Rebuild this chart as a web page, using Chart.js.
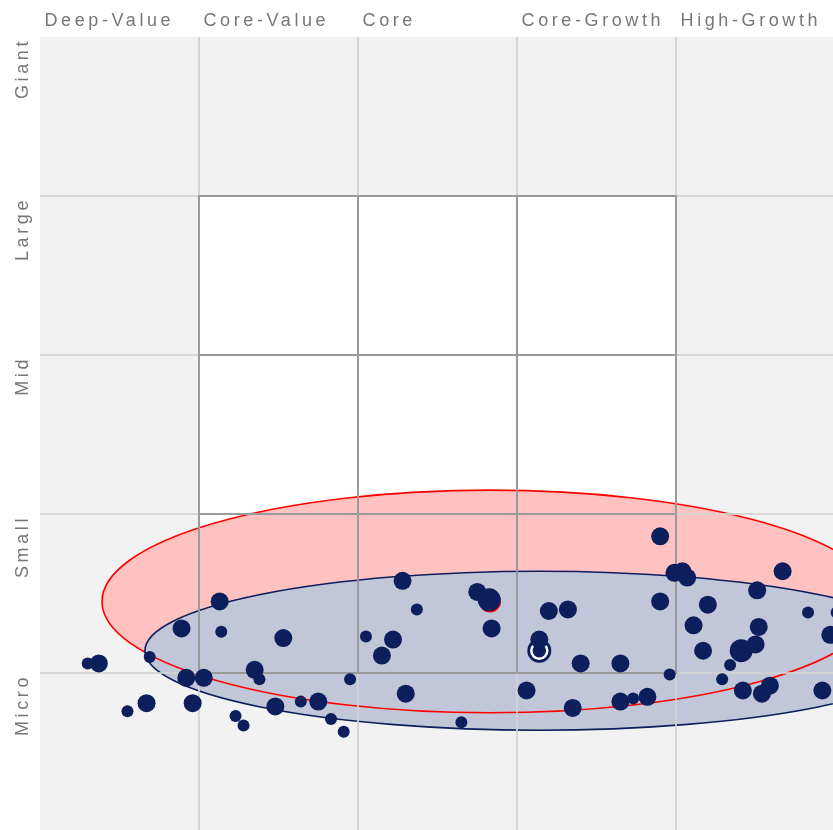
<!DOCTYPE html>
<html>
<head>
<meta charset="utf-8">
<script src="https://cdn.jsdelivr.net/npm/chart.js@4.4.1/dist/chart.umd.min.js"></script>
<style>
  html, body { margin: 0; padding: 0; background: #fff; }
  #wrap { width: 833px; height: 830px; }
</style>
</head>
<body>
<div id="wrap"><canvas id="zone" width="833" height="830"></canvas></div>
<script>
// axis categories
var styleLabels = ["Deep-Value", "Core-Value", "Core", "Core-Growth", "High-Growth"];
var sizeLabels = ["Micro", "Small", "Mid", "Large", "Giant"];
var gridTicks = [1, 2, 3, 4];

// holdings: style score (x), size score (y), weight class (1 small .. 3 large)
var holdingStyle = [0.30, 0.37, 0.69, 0.55, 0.67, 0.89, 1.13, 1.14, 0.92, 1.03,
                    0.96, 1.35, 1.38, 1.23, 1.28, 2.28, 2.37, 1.53, 2.05, 2.22,
                    2.15, 1.95, 2.30, 1.48, 1.64, 1.75, 1.83, 1.91, 2.65, 2.75,
                    2.825, 2.84, 3.20, 3.32, 3.14, 3.40, 3.65, 3.06, 3.35, 3.65,
                    3.73, 3.90, 3.99, 4.04, 4.07, 4.67, 3.90, 4.51, 4.20, 4.83,
                    5.01, 4.11, 4.52, 4.97, 4.17, 4.41, 4.50, 4.34, 3.96, 4.29,
                    4.42, 4.54, 4.59, 4.92, 3.82];
var holdingSize = [1.06, 1.06, 1.10, 0.76, 0.81, 1.28, 1.45, 1.26, 0.97, 0.97,
                   0.81, 1.02, 0.96, 0.73, 0.67, 1.58, 1.40, 1.22, 1.23, 1.21,
                   1.11, 0.96, 0.87, 0.79, 0.82, 0.82, 0.71, 0.63, 0.69, 1.51,
                   1.46, 1.28, 1.39, 1.40, 1.21, 1.06, 1.06, 0.89, 0.78, 0.82,
                   0.84, 1.86, 1.63, 1.64, 1.60, 1.64, 1.45, 1.52, 1.43, 1.38,
                   1.38, 1.30, 1.29, 1.24, 1.14, 1.14, 1.18, 1.05, 0.99, 0.96,
                   0.89, 0.87, 0.92, 0.89, 0.85];
var holdingWeight = [1, 2, 1, 1, 2, 2, 2, 1, 2, 2,
                     2, 2, 1, 1, 1, 2, 1, 2, 1, 2,
                     2, 1, 2, 2, 1, 2, 1, 1, 1, 2,
                     3, 2, 2, 2, 2, 2, 2, 2, 2, 2,
                     1, 2, 2, 2, 2, 2, 2, 2, 2, 1,
                     1, 2, 2, 2, 2, 3, 2, 1, 1, 1,
                     2, 2, 2, 2, 2];

// ownership zones: centre x, centre y, radius x, radius y
var fundZone = [3.14, 1.14, 2.48, 0.50];
var benchZone = [2.83, 1.45, 2.44, 0.70];

var NAVY = '#0c1e5b';
var LABEL_FONT = '18px "Liberation Sans", Arial, sans-serif';

function pts(xs, ys) {
  return xs.map(function (x, i) { return { x: x, y: ys[i] }; });
}

function ellipsePath(chart, z) {
  var xs = chart.scales.x, ys = chart.scales.y;
  var cx = xs.getPixelForValue(z[0]), cy = ys.getPixelForValue(z[1]);
  var rx = xs.getPixelForValue(z[0] + z[2]) - cx;
  var ry = cy - ys.getPixelForValue(z[1] + z[3]);
  chart.ctx.beginPath();
  chart.ctx.ellipse(cx, cy, rx, ry, 0, 0, Math.PI * 2);
}

var zonePlugin = {
  id: 'zone',
  beforeDraw: function (chart) {
    var ctx = chart.ctx, a = chart.chartArea;
    var xs = chart.scales.x, ys = chart.scales.y;
    ctx.save();
    ctx.fillStyle = '#f2f2f2';
    ctx.fillRect(a.left, a.top, a.right - a.left, a.bottom - a.top);
    var x1 = xs.getPixelForValue(1), x4 = xs.getPixelForValue(4);
    var y1 = ys.getPixelForValue(1), y4 = ys.getPixelForValue(4);
    ctx.fillStyle = '#ffffff';
    ctx.fillRect(x1, y4, x4 - x1, y1 - y4);

    ctx.beginPath();
    ctx.rect(a.left, a.top, a.right - a.left, a.bottom - a.top);
    ctx.clip();
    ellipsePath(chart, benchZone);
    ctx.fillStyle = '#ffc2c0';
    ctx.fill();
    ellipsePath(chart, fundZone);
    ctx.fillStyle = '#c1c7d8';
    ctx.fill();
    ctx.lineWidth = 1.6;
    ellipsePath(chart, benchZone);
    ctx.strokeStyle = '#ff0000';
    ctx.stroke();
    ellipsePath(chart, fundZone);
    ctx.strokeStyle = NAVY;
    ctx.stroke();

    // light grid over the zones
    ctx.strokeStyle = 'rgba(210,210,210,0.85)';
    ctx.lineWidth = 2;
    ctx.beginPath();
    gridTicks.forEach(function (v) {
      var px = Math.round(xs.getPixelForValue(v));
      ctx.moveTo(px, a.top);
      ctx.lineTo(px, a.bottom);
      var py = Math.round(ys.getPixelForValue(v));
      ctx.moveTo(a.left, py);
      ctx.lineTo(a.right, py);
    });
    ctx.stroke();
    ctx.restore();

    // labels
    ctx.save();
    ctx.fillStyle = '#777777';
    ctx.font = LABEL_FONT;
    ctx.letterSpacing = '3.6px';
    ctx.textBaseline = 'alphabetic';
    ctx.textAlign = 'left';
    styleLabels.forEach(function (t, i) {
      ctx.fillText(t, xs.getPixelForValue(i) + 4.5, 26);
    });
    ctx.textAlign = 'right';
    sizeLabels.forEach(function (t, i) {
      ctx.save();
      ctx.translate(28, ys.getPixelForValue(i + 1) + 1);
      ctx.rotate(-Math.PI / 2);
      ctx.fillText(t, 0, 0);
      ctx.restore();
    });
    ctx.restore();
  },
  beforeDatasetsDraw: function (chart) {
    var ctx = chart.ctx;
    var xs = chart.scales.x, ys = chart.scales.y;
    ctx.save();
    ctx.strokeStyle = '#9a9a9a';
    ctx.lineWidth = 2;
    ctx.beginPath();
    gridTicks.forEach(function (v) {
      var px = Math.round(xs.getPixelForValue(v));
      ctx.moveTo(px, ys.getPixelForValue(1) + 1);
      ctx.lineTo(px, ys.getPixelForValue(4) - 1);
      var py = Math.round(ys.getPixelForValue(v));
      ctx.moveTo(xs.getPixelForValue(1) - 1, py);
      ctx.lineTo(xs.getPixelForValue(4) + 1, py);
    });
    ctx.stroke();
    ctx.restore();
  }
};

new Chart(document.getElementById('zone'), {
  type: 'scatter',
  data: {
    datasets: [
      {
        label: 'Holdings',
        data: pts(holdingStyle, holdingSize),
        backgroundColor: NAVY,
        borderWidth: 0,
        pointRadius: holdingWeight.map(function (w) { return [0, 6, 9, 11.5][w]; }),
        order: 1
      },
      {
        label: 'Fund centroid',
        data: [{ x: fundZone[0], y: fundZone[1] }],
        backgroundColor: NAVY,
        borderColor: '#ffffff',
        borderWidth: 2.5,
        pointRadius: 8,
        order: 2
      },
      {
        label: 'Fund centroid outer',
        data: [{ x: fundZone[0], y: fundZone[1] }],
        backgroundColor: NAVY,
        borderWidth: 0,
        pointRadius: 12,
        order: 3
      },
      {
        label: 'Benchmark centroid',
        data: [{ x: benchZone[0], y: benchZone[1] }],
        backgroundColor: '#ff0000',
        borderWidth: 0,
        pointRadius: 11,
        order: 4
      }
    ]
  },
  options: {
    responsive: false,
    devicePixelRatio: 1,
    animation: false,
    events: [],
    layout: { autoPadding: false, padding: { left: 40, top: 37, right: 0, bottom: 0 } },
    plugins: { legend: { display: false }, tooltip: { enabled: false } },
    scales: {
      x: { type: 'linear', display: false, min: 0, max: 4.987 },
      y: { type: 'linear', display: false, min: 0.0126, max: 5 }
    }
  },
  plugins: [zonePlugin]
});
</script>
</body>
</html>
